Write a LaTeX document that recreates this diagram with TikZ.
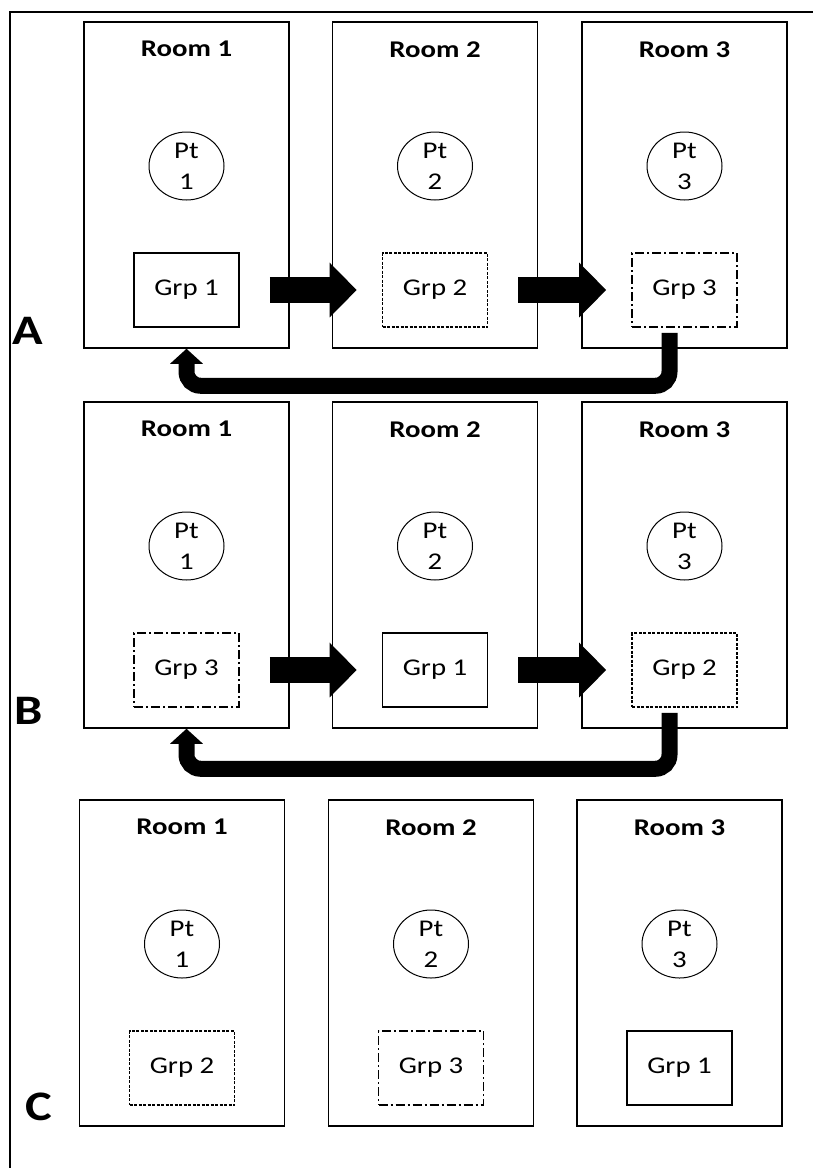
\documentclass[tikz,border=0pt]{standalone}
\usepackage{fontspec}
\setmainfont{Carlito}[FakeStretch=1.2]
\usetikzlibrary{arrows.meta, positioning, shapes.geometric}

\begin{document}
\begin{tikzpicture}[
    x=1pt, y=-1pt,
    room/.style={
        draw,
        line width=1.5pt,
        minimum width=205pt,
        minimum height=326pt,
        inner sep=0pt
    },
    roomtitle/.style={
        font=\fontsize{24}{28}\selectfont\bfseries,
        inner sep=0pt
    },
    patient/.style={
        ellipse,
        draw,
        line width=1pt,
        minimum width=75pt,
        minimum height=68pt,
        inner sep=0pt,
        align=center,
        font=\fontsize{24}{31}\selectfont
    },
    grp/.style={
        draw,
        line width=1.6pt,
        minimum width=105pt,
        minimum height=74pt,
        inner sep=0pt,
        font=\fontsize{24}{28}\selectfont
    },
    grpsolid/.style={grp},
    grpdashed/.style={grp, dash pattern=on 3pt off 1.5pt},
    grpdashdot/.style={grp, dash pattern=on 9pt off 3pt on 2pt off 3pt},
    rowlabel/.style={
        font=\fontsize{42}{46}\selectfont\bfseries,
        inner sep=0pt
    },
    fwdarrow/.style={
        line width=26pt,
        -{Triangle[length=27pt, width=53pt]}
    },
    backarrow/.style={
        line width=16pt,
        rounded corners=14pt,
        -{Triangle[length=15pt, width=32pt]}
    }
]
\useasboundingbox (0,0) rectangle (813,1168);

% Frame
\coordinate (FL) at (10,1168);
\coordinate (FC) at (10,12);
\coordinate (FR) at (813,12);
\draw[line width=1.5pt] (FL) -- (FC) -- (FR);

% Row A
\node[room] (RA1) at (186.5,185) {};
\node[roomtitle] (TA1) at ([yshift=-28pt]RA1.north) {Room 1};
\node[patient] (PA1) at ([yshift=19pt]RA1.center) {Pt\\1};
\node[grpsolid] (GA1) at ([yshift=-105pt]RA1.center) {Grp 1};

\node[room] (RA2) at (435,185) {};
\node[roomtitle] (TA2) at ([yshift=-28pt]RA2.north) {Room 2};
\node[patient] (PA2) at ([yshift=19pt]RA2.center) {Pt\\2};
\node[grpdashed] (GA2) at ([yshift=-105pt]RA2.center) {Grp 2};

\node[room] (RA3) at (684.5,185) {};
\node[roomtitle] (TA3) at ([yshift=-28pt]RA3.north) {Room 3};
\node[patient] (PA3) at ([yshift=19pt]RA3.center) {Pt\\3};
\node[grpdashdot] (GA3) at ([yshift=-105pt]RA3.center) {Grp 3};

\node[rowlabel] (LA) at (28,331) {A};

\draw[fwdarrow] ([xshift=30pt]GA1.east) -- ([xshift=-25pt]GA2.west);
\draw[fwdarrow] ([xshift=30pt]GA2.east) -- ([xshift=-25pt]GA3.west);
\draw[backarrow] ([xshift=-15pt,yshift=-5pt]GA3.south) |- ([yshift=-37pt]RA1.south) -- (RA1.south);

% Row B
\node[room] (RB1) at (186.5,565) {};
\node[roomtitle] (TB1) at ([yshift=-28pt]RB1.north) {Room 1};
\node[patient] (PB1) at ([yshift=19pt]RB1.center) {Pt\\1};
\node[grpdashdot] (GB1) at ([yshift=-105pt]RB1.center) {Grp 3};

\node[room] (RB2) at (435,565) {};
\node[roomtitle] (TB2) at ([yshift=-28pt]RB2.north) {Room 2};
\node[patient] (PB2) at ([yshift=19pt]RB2.center) {Pt\\2};
\node[grpsolid] (GB2) at ([yshift=-105pt]RB2.center) {Grp 1};

\node[room] (RB3) at (684.5,565) {};
\node[roomtitle] (TB3) at ([yshift=-28pt]RB3.north) {Room 3};
\node[patient] (PB3) at ([yshift=19pt]RB3.center) {Pt\\3};
\node[grpdashed] (GB3) at ([yshift=-105pt]RB3.center) {Grp 2};

\node[rowlabel] (LB) at (29,711) {B};

\draw[fwdarrow] ([xshift=30pt]GB1.east) -- ([xshift=-25pt]GB2.west);
\draw[fwdarrow] ([xshift=30pt]GB2.east) -- ([xshift=-25pt]GB3.west);
\draw[backarrow] ([xshift=-15pt,yshift=-5pt]GB3.south) |- ([yshift=-40pt]RB1.south) -- (RB1.south);

% Row C
\node[room] (RC1) at (182,963) {};
\node[roomtitle] (TC1) at ([yshift=-28pt]RC1.north) {Room 1};
\node[patient] (PC1) at ([yshift=19pt]RC1.center) {Pt\\1};
\node[grpdashed] (GC1) at ([yshift=-105pt]RC1.center) {Grp 2};

\node[room] (RC2) at (431,963) {};
\node[roomtitle] (TC2) at ([yshift=-28pt]RC2.north) {Room 2};
\node[patient] (PC2) at ([yshift=19pt]RC2.center) {Pt\\2};
\node[grpdashdot] (GC2) at ([yshift=-105pt]RC2.center) {Grp 3};

\node[room] (RC3) at (679.5,963) {};
\node[roomtitle] (TC3) at ([yshift=-28pt]RC3.north) {Room 3};
\node[patient] (PC3) at ([yshift=19pt]RC3.center) {Pt\\3};
\node[grpsolid] (GC3) at ([yshift=-105pt]RC3.center) {Grp 1};

\node[rowlabel] (LC) at (39,1107) {C};

\end{tikzpicture}
\end{document}
